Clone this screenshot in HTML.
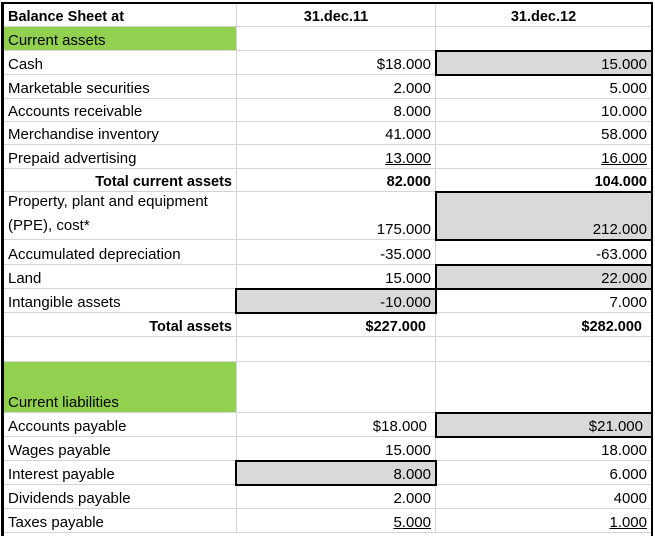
<!DOCTYPE html>
<html><head><meta charset="utf-8"><style>
body{margin:0;width:655px;height:536px;background:#fff;position:relative;overflow:hidden;font-family:"Liberation Sans",Arial,sans-serif;font-size:15px;color:#000}
.r{position:absolute;left:4px;width:648px;display:flex;border-bottom:1px solid #d4d4d4;box-sizing:border-box}
.c{box-sizing:border-box;display:flex;align-items:flex-end;padding:0 4px 1px 4px;border-right:1px solid #d4d4d4;height:100%;white-space:nowrap}
.a{width:233px}.b{width:199px;justify-content:flex-end}.d{width:216px;justify-content:flex-end}
.g{background:#92d050}.gr{background:#d9d9d9}
.bx{position:absolute;border:2px solid #000;box-sizing:border-box}
.u{text-decoration:underline}
b{font-weight:bold;font-size:14.5px}
</style></head><body>
<div class="r" style="top:3px;height:24px"><div class="c a"><b>Balance Sheet at</b></div><div class="c b" style="justify-content:center"><b>31.dec.11</b></div><div class="c d" style="justify-content:center"><b>31.dec.12</b></div></div>
<div class="r" style="top:27px;height:24px"><div class="c a g">Current assets</div><div class="c b"></div><div class="c d"></div></div>
<div class="r" style="top:51px;height:24px"><div class="c a">Cash</div><div class="c b">$18.000</div><div class="c d gr">15.000</div></div>
<div class="r" style="top:75px;height:24px"><div class="c a">Marketable securities</div><div class="c b">2.000</div><div class="c d">5.000</div></div>
<div class="r" style="top:99px;height:23px"><div class="c a">Accounts receivable</div><div class="c b">8.000</div><div class="c d">10.000</div></div>
<div class="r" style="top:122px;height:23px"><div class="c a">Merchandise inventory</div><div class="c b">41.000</div><div class="c d">58.000</div></div>
<div class="r" style="top:145px;height:24px"><div class="c a">Prepaid advertising</div><div class="c b"><span class="u">13.000</span></div><div class="c d"><span class="u">16.000</span></div></div>
<div class="r" style="top:169px;height:23px"><div class="c a" style="justify-content:flex-end"><b>Total current assets</b></div><div class="c b"><b>82.000</b></div><div class="c d"><b>104.000</b></div></div>
<div class="r" style="top:192px;height:48px"><div class="c a" style="line-height:24px">Property, plant and equipment<br>(PPE), cost*</div><div class="c b">175.000</div><div class="c d gr">212.000</div></div>
<div class="r" style="top:240px;height:25px"><div class="c a">Accumulated depreciation</div><div class="c b">-35.000</div><div class="c d">-63.000</div></div>
<div class="r" style="top:265px;height:24px"><div class="c a">Land</div><div class="c b">15.000</div><div class="c d gr">22.000</div></div>
<div class="r" style="top:289px;height:24px"><div class="c a">Intangible assets</div><div class="c b gr">-10.000</div><div class="c d">7.000</div></div>
<div class="r" style="top:313px;height:24px"><div class="c a" style="justify-content:flex-end"><b>Total assets</b></div><div class="c b" style="padding-right:9px"><b>$227.000</b></div><div class="c d" style="padding-right:9px"><b>$282.000</b></div></div>
<div class="r" style="top:337px;height:25px"><div class="c a"></div><div class="c b"></div><div class="c d"></div></div>
<div class="r" style="top:362px;height:51px"><div class="c a g">Current liabilities</div><div class="c b"></div><div class="c d"></div></div>
<div class="r" style="top:413px;height:24px"><div class="c a">Accounts payable</div><div class="c b" style="padding-right:8px">$18.000</div><div class="c d gr" style="padding-right:8px">$21.000</div></div>
<div class="r" style="top:437px;height:24px"><div class="c a">Wages payable</div><div class="c b">15.000</div><div class="c d">18.000</div></div>
<div class="r" style="top:461px;height:24px"><div class="c a">Interest payable</div><div class="c b gr">8.000</div><div class="c d">6.000</div></div>
<div class="r" style="top:485px;height:24px"><div class="c a">Dividends payable</div><div class="c b">2.000</div><div class="c d">4000</div></div>
<div class="r" style="top:509px;height:24px"><div class="c a">Taxes payable</div><div class="c b"><span class="u">5.000</span></div><div class="c d"><span class="u">1.000</span></div></div>
<div style="position:absolute;left:1px;top:2px;width:3px;height:534px;background:#000"></div>
<div style="position:absolute;left:1px;top:2px;width:652px;height:2px;background:#000"></div>
<div style="position:absolute;left:651px;top:2px;width:2px;height:534px;background:#000"></div>
<div class="bx" style="left:435px;top:50px;width:218px;height:26px"></div>
<div class="bx" style="left:435px;top:191px;width:218px;height:50px"></div>
<div class="bx" style="left:435px;top:264px;width:218px;height:26px"></div>
<div class="bx" style="left:235px;top:288px;width:202px;height:26px"></div>
<div class="bx" style="left:435px;top:412px;width:218px;height:26px"></div>
<div class="bx" style="left:235px;top:460px;width:202px;height:26px"></div>
</body></html>
